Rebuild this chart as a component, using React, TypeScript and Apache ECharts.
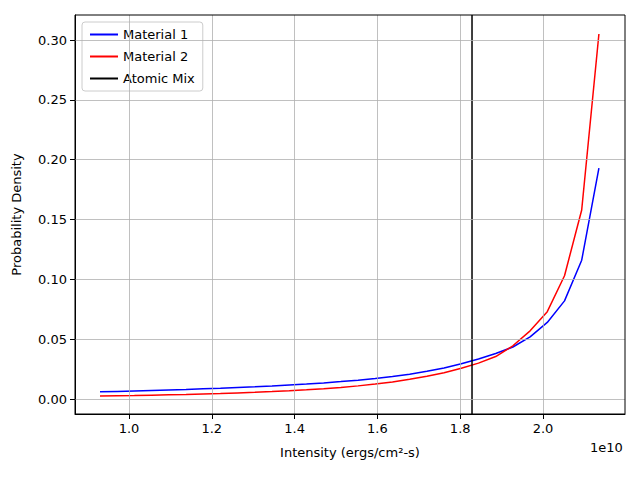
import React, { useEffect, useRef } from "react";
import * as echarts from "echarts";

const xValues = [0.93,0.9716,1.0131,1.0547,1.0962,1.1378,1.1793,1.2209,1.2624,1.304,1.3455,1.3871,1.4286,1.4702,1.5117,1.5533,1.5948,1.6364,1.6779,1.7195,1.761,1.8026,1.8441,1.8857,1.9272,1.9688,2.0103,2.0519,2.0934,2.135];
const material1 = [0.006,0.0064,0.0068,0.0072,0.0076,0.008,0.0085,0.009,0.0096,0.0102,0.0109,0.0117,0.0125,0.0135,0.0146,0.0158,0.0172,0.0188,0.0208,0.0232,0.026,0.0295,0.0335,0.038,0.0435,0.052,0.064,0.082,0.116,0.193];
const material2 = [0.0025,0.0027,0.0029,0.0032,0.0035,0.0038,0.0042,0.0046,0.0051,0.0056,0.0062,0.0069,0.0077,0.0086,0.0097,0.011,0.0125,0.0143,0.0165,0.019,0.022,0.0258,0.03,0.0355,0.0445,0.057,0.073,0.103,0.158,0.305];
const atomicMix = 1.8285;
const xTicks = [1.0, 1.2, 1.4, 1.6, 1.8, 2.0];
const yTicks = [0, 0.05, 0.1, 0.15, 0.2, 0.25, 0.3];
const X_MIN = 0.8696, X_MAX = 2.198, Y_MIN = -0.0125, Y_MAX = 0.3209;

export default function App() {
  const ref = useRef<HTMLDivElement>(null);
  useEffect(() => {
    const chart = echarts.init(ref.current!, null, { renderer: "svg" });
    const font = "DejaVu Sans";
    const gridLines = [
      ...xTicks.map((v) => ({ xAxis: v })),
      ...yTicks.map((v) => ({ yAxis: v })),
    ];
    chart.setOption({
      animation: false,
      textStyle: { fontFamily: font },
      grid: { left: 75, right: 15, top: 15, bottom: 66 },
      legend: {
        orient: "vertical", left: 82, top: 22, padding: [6, 8],
        backgroundColor: "#fff", borderColor: "#ccc", borderWidth: 1, borderRadius: 3,
        itemWidth: 28, itemHeight: 2, itemGap: 9,
        textStyle: { fontFamily: font, fontSize: 13, color: "#000" },
        data: [
          { name: "Material 1", icon: "rect" },
          { name: "Material 2", icon: "rect" },
          { name: "Atomic Mix", icon: "rect" },
        ],
      },
      xAxis: {
        type: "value", min: X_MIN, max: X_MAX,
        name: "Intensity (ergs/cm²-s)", nameLocation: "middle", nameGap: 32,
        nameTextStyle: { fontFamily: font, fontSize: 13, color: "#000" },
        axisLine: { onZero: false, lineStyle: { color: "#000" } },
        axisTick: { customValues: xTicks, length: 5, lineStyle: { color: "#000" } },
        axisLabel: { customValues: xTicks, fontFamily: font, fontSize: 13, color: "#000", formatter: (v: number) => v.toFixed(1) },
        splitLine: { show: false },
      },
      yAxis: {
        type: "value", min: Y_MIN, max: Y_MAX,
        name: "Probability Density", nameLocation: "middle", nameGap: 52,
        nameTextStyle: { fontFamily: font, fontSize: 13, color: "#000" },
        axisLine: { show: true, onZero: false, lineStyle: { color: "#000" } },
        axisTick: { show: true, customValues: yTicks, length: 5, lineStyle: { color: "#000" } },
        axisLabel: { customValues: yTicks, fontFamily: font, fontSize: 13, color: "#000", formatter: (v: number) => v.toFixed(2) },
        splitLine: { show: false },
      },
      graphic: [
        { type: "rect", shape: { x: 75, y: 15, width: 550, height: 399 }, style: { fill: "none", stroke: "#000", lineWidth: 1 }, z: 10 },
        { type: "text", x: 590, y: 441, style: { text: "1e10", fontFamily: font, fontSize: 13, fill: "#000" } },
      ],
      series: [
        {
          name: "grid", type: "line", data: [], silent: true,
          markLine: { symbol: "none", silent: true, label: { show: false }, lineStyle: { color: "#b0b0b0", width: 0.8, type: "solid" }, data: gridLines },
        },
        { name: "Material 1", type: "line", symbol: "none", color: "#0000ff", lineStyle: { width: 1.5 }, data: xValues.map((x, i) => [x, material1[i]]), z: 3 },
        { name: "Material 2", type: "line", symbol: "none", color: "#ff0000", lineStyle: { width: 1.5 }, data: xValues.map((x, i) => [x, material2[i]]), z: 3 },
        { name: "Atomic Mix", type: "line", symbol: "none", color: "#000000", lineStyle: { width: 1.5 }, data: [[atomicMix, Y_MIN], [atomicMix, Y_MAX]], z: 4 },
      ],
    });
    return () => chart.dispose();
  }, []);
  return <div ref={ref} style={{ width: 640, height: 480, position: "absolute", left: 0, top: 0 }} />;
}
